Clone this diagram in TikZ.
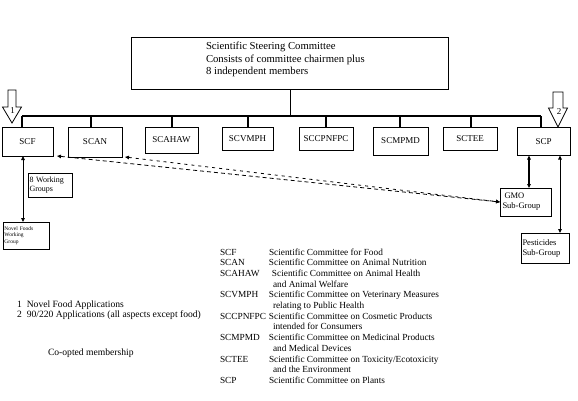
\documentclass[tikz,border=0pt]{standalone}
\usepackage{fontspec}
\setmainfont{Liberation Serif}
\usetikzlibrary{arrows.meta}
\begin{document}
\begin{tikzpicture}[x=1pt,y=-1pt,
  every node/.style={inner sep=0pt, outer sep=0pt},
  cbox/.style={draw, line width=0.8pt, font=\fontsize{9}{10}\selectfont},
  sbox/.style={draw, line width=0.8pt, align=left, inner sep=1.5pt},
  drop/.style={line width=1.8pt},
  bus/.style={line width=1.3pt},
  dtip/.style={{Triangle[length=4pt,width=3.5pt]}-{Triangle[length=4pt,width=3.5pt]}},
  hollow/.style={draw, line width=0.8pt, fill=white},
  txt/.style={font=\fontsize{9.3}{10.7}\selectfont, anchor=base west},
  ftxt/.style={font=\fontsize{9.6}{11}\selectfont, anchor=base west}
]
\useasboundingbox (0,0) rectangle (578,400);
\fill[white] (0,0) rectangle (578,400);

% top box
\node[draw, line width=0.8pt, minimum width=317pt, minimum height=52pt] (ssc) at (289.5,63) {};
\node[font=\fontsize{10.7}{12.5}\selectfont, align=left, anchor=north west] (ssctext) at (206,42)
  {Scientific Steering Committee\\Consists of committee chairmen plus\\8 independent members};

% committee boxes
\node[cbox, minimum width=51pt, minimum height=29pt] (scf) at (27.5,141.5) {SCF};
\node[cbox, minimum width=54pt, minimum height=30pt] (scan) at (95,142) {SCAN};
\node[cbox, minimum width=53pt, minimum height=26pt] (scahaw) at (171.5,140) {SCAHAW};
\node[cbox, minimum width=51pt, minimum height=23pt] (scvmph) at (247.5,138.5) {SCVMPH};
\node[cbox, minimum width=54pt, minimum height=23pt] (sccpnfpc) at (326,138.5) {SCCPNFPC};
\node[cbox, minimum width=55pt, minimum height=28pt] (scmpmd) at (400.5,141) {SCMPMD};
\node[cbox, minimum width=54pt, minimum height=23pt] (sctee) at (470,138.5) {SCTEE};
\node[cbox, minimum width=53pt, minimum height=28pt] (scp) at (543.5,141.5) {SCP};

% bus
\coordinate (b1) at (22,116);
\coordinate (b2) at (91,116);
\coordinate (b3) at (172,116);
\coordinate (b4) at (248,116);
\coordinate (bt) at (290,116);
\coordinate (b5) at (326,116);
\coordinate (b6) at (400,116);
\coordinate (b7) at (471,116);
\coordinate (b8) at (541,116);
\draw[bus] (b1) -- (b8);
\draw[line width=0.9pt] (ssc.south -| bt) -- (bt);
\draw[drop] (b1) -- (b1 |- scf.north);
\draw[drop] (b2) -- (b2 |- scan.north);
\draw[drop] (b3) -- (b3 |- scahaw.north);
\draw[drop] (b4) -- (b4 |- scvmph.north);
\draw[drop] (b5) -- (b5 |- sccpnfpc.north);
\draw[drop] (b6) -- (b6 |- scmpmd.north);
\draw[drop] (b7) -- (b7 |- sctee.north);
\draw[drop] (b8) -- (b8 |- scp.north);

% hollow arrows
\draw[hollow] (8,90) -- (16,90) -- (16,107) -- (21.5,107) -- (12,123) -- (2.5,107) -- (8,107) -- cycle;
\node[font=\fontsize{9}{10}\selectfont] (n1) at (12.5,111) {1};
\draw[hollow] (553,92) -- (563,92) -- (563,108) -- (567.5,108) -- (558,127) -- (548.5,108) -- (553,108) -- cycle;
\node[font=\fontsize{9}{10}\selectfont] (n2) at (559,112) {2};

% sub boxes
\node[sbox, minimum width=46pt, minimum height=27pt, font=\fontsize{5.5}{6.5}\selectfont, text width=43pt] (novel) at (26,235.5) {Novel Foods\\Working\\Group};
\node[sbox, minimum width=44pt, minimum height=24pt, font=\fontsize{8}{9.5}\selectfont, text width=41pt] (wg) at (50,185) {8 Working\\Groups};
\node[sbox, minimum width=51pt, minimum height=28pt, font=\fontsize{8.5}{10}\selectfont, text width=46pt] (gmo) at (525.5,202) {\hspace*{2pt}GMO\\Sub-Group};
\node[sbox, minimum width=48pt, minimum height=30pt, font=\fontsize{8.5}{10}\selectfont, text width=45pt] (pest) at (545,248) {Pesticides\\Sub-Group};

% vertical arrows
\coordinate (x1) at (23,0);
\draw[dtip, line width=0.9pt] (x1 |- scf.south) -- (x1 |- novel.north);
\coordinate (x2) at (529,0);
\draw[dtip, line width=1.6pt] (x2 |- scp.south) -- (x2 |- gmo.north);
\coordinate (x3) at (560,0);
\draw[dtip, line width=0.9pt] (x3 |- scp.south) -- (x3 |- pest.north);

% dashed connectors
\draw[dtip, dashed, dash pattern=on 4pt off 3pt, line width=0.8pt] ([xshift=4pt]scf.south east) -- (gmo.west);
\draw[dtip, dashed, dash pattern=on 3pt off 4pt, line width=0.8pt] ([xshift=3pt]scan.south east) -- (gmo.west);

% legend
\node[txt] (legend) at (220,255) {%
  \begin{tabular}[t]{@{}p{49pt}@{}l@{}}
  SCF & Scientific Committee for Food\\
  SCAN & Scientific Committee on Animal Nutrition\\
  SCAHAW & \hspace{3pt}Scientific Committee on Animal Health\\
   & \hspace{4pt}and Animal Welfare\\
  SCVMPH & Scientific Committee on Veterinary Measures\\
   & \hspace{4pt}relating to Public Health\\
  SCCPNFPC & Scientific Committee on Cosmetic Products\\
   & \hspace{4pt}intended for Consumers\\
  SCMPMD & Scientific Committee on Medicinal Products\\
   & \hspace{4pt}and Medical Devices\\
  SCTEE & Scientific Committee on Toxicity/Ecotoxicity\\
   & \hspace{4pt}and the Environment\\
  SCP & Scientific Committee on Plants
  \end{tabular}};

% footnotes
\node[ftxt] (f1) at (17,307) {1\hspace{5pt}Novel Food Applications};
\node[ftxt] (f2) at (17,317.5) {2\hspace{5pt}90/220 Applications (all aspects except food)};
\node[ftxt] (coopt) at (48,355) {Co-opted membership};
\end{tikzpicture}
\end{document}
